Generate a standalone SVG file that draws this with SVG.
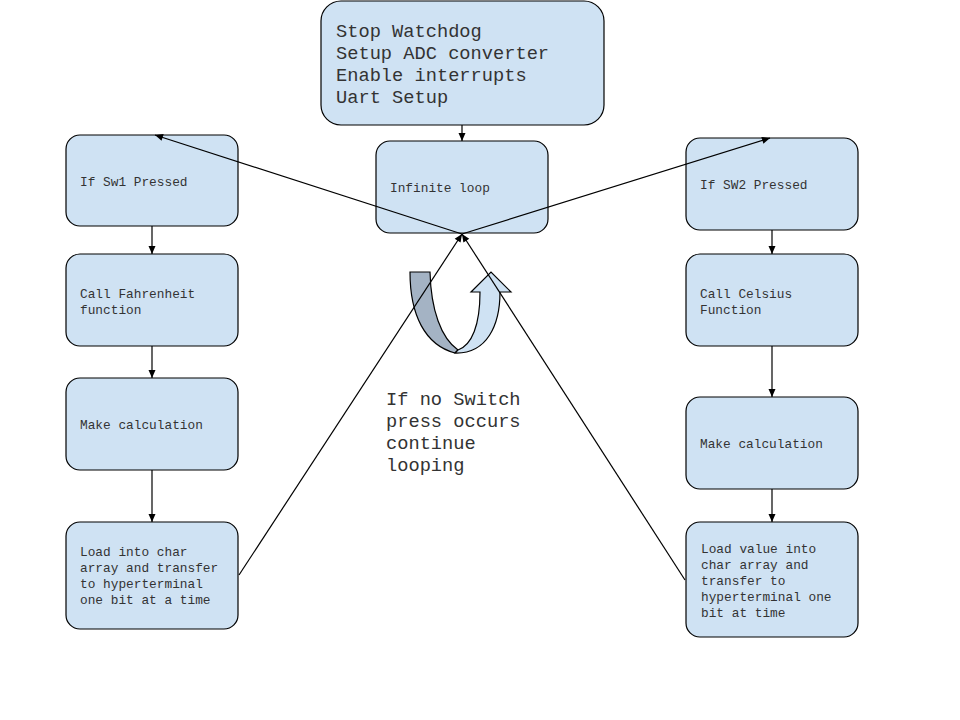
<svg xmlns="http://www.w3.org/2000/svg" width="960" height="720" viewBox="0 0 960 720">
<defs>
<marker id="ah" markerUnits="userSpaceOnUse" markerWidth="10" markerHeight="10" viewBox="0 0 10 10" refX="9" refY="5" orient="auto">
<path d="M1,1.5 L9,5 L1,8.5 Z" fill="#000"/>
</marker>
</defs>
<style>
.box{fill:#cfe2f3;stroke:#000;stroke-width:1.2}
.t{font-family:"Liberation Mono","Courier New",monospace;font-size:12.8px;fill:#333}
.big{font-family:"Liberation Mono","Courier New",monospace;font-size:18.7px;fill:#333}
.c{stroke:#000;stroke-width:1.2;fill:none;marker-end:url(#ah)}
</style>
<rect width="960" height="720" fill="#fff"/>
<g id="setup"><rect class="box" x="321" y="1" width="283" height="124" rx="20"/>
<text class="big" x="336" y="37">Stop Watchdog</text>
<text class="big" x="336" y="59">Setup ADC converter</text>
<text class="big" x="336" y="81">Enable interrupts</text>
<text class="big" x="336" y="103">Uart Setup</text></g>
<g id="loop"><rect class="box" x="376" y="141" width="172" height="92" rx="14"/>
<text class="t" x="390" y="192">Infinite loop</text></g>
<g id="sw1"><rect class="box" x="66" y="135" width="172" height="91" rx="14"/>
<text class="t" x="80" y="186">If Sw1 Pressed</text></g>
<g id="fahr"><rect class="box" x="66" y="254" width="172" height="92" rx="14"/>
<text class="t" x="80" y="298">Call Fahrenheit</text>
<text class="t" x="80" y="314">function</text></g>
<g id="calc1"><rect class="box" x="66" y="378" width="172" height="92" rx="14"/>
<text class="t" x="80" y="429">Make calculation</text></g>
<g id="load1"><rect class="box" x="66" y="522" width="172" height="107" rx="14"/>
<text class="t" x="80" y="556">Load into char</text>
<text class="t" x="80" y="572">array and transfer</text>
<text class="t" x="80" y="588">to hyperterminal</text>
<text class="t" x="80" y="604">one bit at a time</text></g>
<g id="sw2"><rect class="box" x="686" y="138" width="172" height="92" rx="14"/>
<text class="t" x="700" y="189">If SW2 Pressed</text></g>
<g id="cels"><rect class="box" x="686" y="254" width="172" height="92" rx="14"/>
<text class="t" x="700" y="298">Call Celsius</text>
<text class="t" x="700" y="314">Function</text></g>
<g id="calc2"><rect class="box" x="686" y="397" width="172" height="92" rx="14"/>
<text class="t" x="700" y="448">Make calculation</text></g>
<g id="load2"><rect class="box" x="686" y="522" width="172" height="115" rx="14"/>
<text class="t" x="701" y="553">Load value into</text>
<text class="t" x="701" y="569">char array and</text>
<text class="t" x="701" y="585">transfer to</text>
<text class="t" x="701" y="601">hyperterminal one</text>
<text class="t" x="701" y="617">bit at time</text></g>
<g id="uturn">
<path d="M410,272 L430,272 C431,310 441,338 458,350 L455,353 C425,345 410,315 410,272 Z" fill="#a4b3c4" stroke="#000" stroke-width="1.2"/>
<path d="M455,353 C487,354 500,325 500,292 L511,292 L491,272 L471,292 L480,292 C480,325 472,345 458,350 Z" fill="#cfe2f3" stroke="#000" stroke-width="1.2"/>
</g>
<g id="note">
<text class="big" x="386" y="405">If no Switch</text>
<text class="big" x="386" y="427">press occurs</text>
<text class="big" x="386" y="449">continue</text>
<text class="big" x="386" y="471">looping</text></g>
<g id="connectors">
<line class="c" x1="462" y1="125" x2="462" y2="141"/>
<line class="c" x1="152" y1="226" x2="152" y2="254"/>
<line class="c" x1="152" y1="346" x2="152" y2="378"/>
<line class="c" x1="152" y1="470" x2="152" y2="522"/>
<line class="c" x1="772" y1="230" x2="772" y2="254"/>
<line class="c" x1="772" y1="346" x2="772" y2="397"/>
<line class="c" x1="772" y1="489" x2="772" y2="522"/>
<line class="c" x1="239" y1="575" x2="462" y2="234"/>
<line class="c" x1="685" y1="580" x2="462" y2="234"/>
<line class="c" x1="462" y1="234" x2="155" y2="135"/>
<line class="c" x1="462" y1="234" x2="770" y2="138"/>
</g>
</svg>
